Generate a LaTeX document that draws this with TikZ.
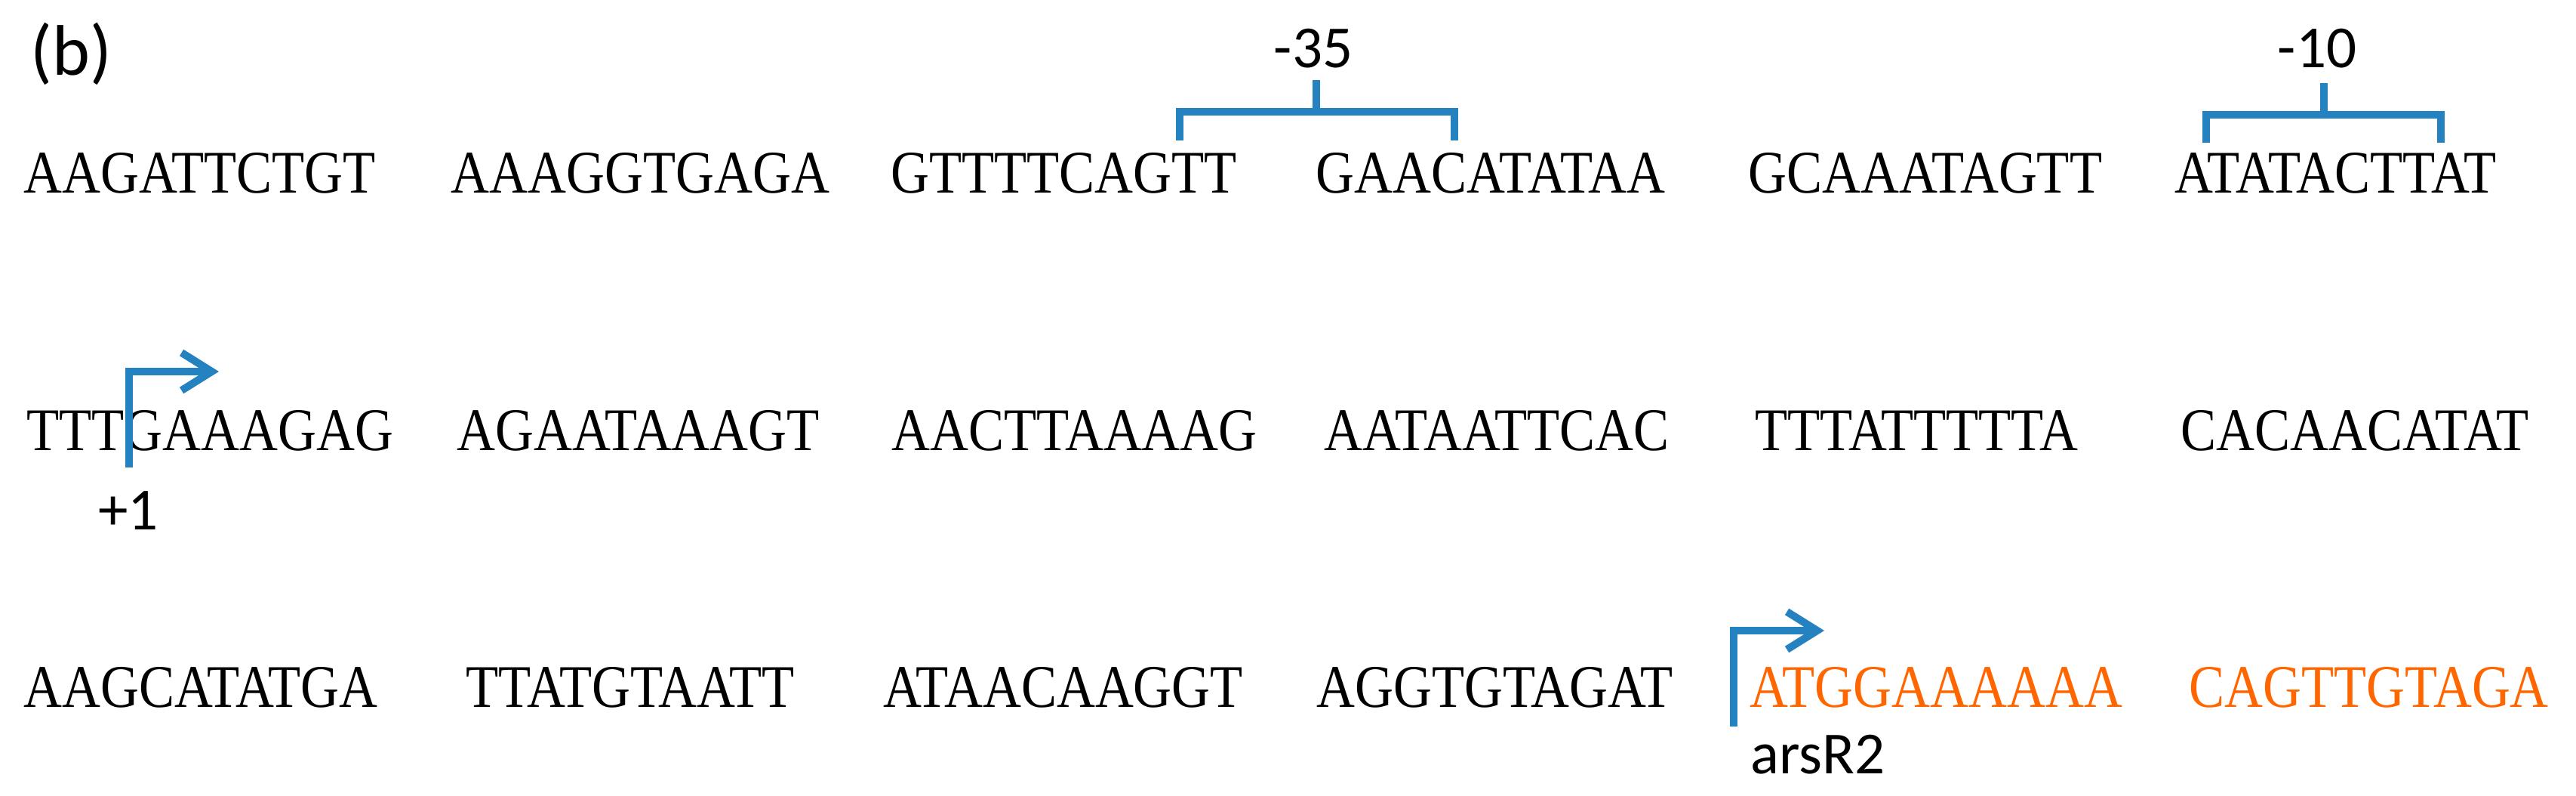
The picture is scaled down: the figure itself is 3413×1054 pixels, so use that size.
\documentclass[tikz,border=0pt]{standalone}
\usepackage{fontspec}
\newfontfamily\seqfont[FakeStretch=0.88]{Liberation Serif}
\newfontfamily\lblfont{Carlito}
\usetikzlibrary{arrows.meta}
\definecolor{promblue}{RGB}{37,130,193}
\definecolor{geneorange}{RGB}{255,102,0}

\begin{document}
\begin{tikzpicture}[x = .1mm, y = -.1mm,
  seq/.style = {anchor = base west, inner sep = 0pt, font = \seqfont\fontsize{22.8}{27}\selectfont},
  gene/.style = {seq, text = geneorange},
  lbl/.style = {inner sep = 0pt, font = \lblfont\fontsize{22.5}{27}\selectfont},
  brack/.style = {draw = promblue, line width = 1mm},
  prom/.style = {draw = promblue, line width = 1mm, -{Straight Barb[length = 4mm, width = 5mm]}}]
\useasboundingbox (0,0) rectangle (3413,1054);
\node[lbl, anchor = base west, font = \lblfont\fontsize{27}{32}\selectfont] (panel) at (40,100) {(b)};
% first line
\node[seq] (s11) at (31,256) {AAGATTCTGT};
\node[seq] (s12) at (597,256) {AAAGGTGAGA};
\node[seq] (s13) at (1180,256) {GTTTTCAGTT};
\node[seq] (s14) at (1743,256) {GAACATATAA};
\node[seq] (s15) at (2316,256) {GCAAATAGTT};
\node[seq] (s16) at (2881,256) {ATATACTTAT};
% second line
\node[seq] (s21) at (35,597) {TTTGAAAGAG};
\node[seq] (s22) at (605,597) {AGAATAAAGT};
\node[seq] (s23) at (1181,597) {AACTTAAAAG};
\node[seq] (s24) at (1754,597) {AATAATTCAC};
\node[seq] (s25) at (2325,597) {TTTATTTTTA};
\node[seq] (s26) at (2889,597) {CACAACATAT};
% third line
\node[seq] (s31) at (31,937) {AAGCATATGA};
\node[seq] (s32) at (617,937) {TTATGTAATT};
\node[seq] (s33) at (1170,937) {ATAACAAGGT};
\node[seq] (s34) at (1744,937) {AGGTGTAGAT};
\node[gene] (s35) at (2318,937) {ATGGAAAAAA};
\node[gene] (s36) at (2900,937) {CAGTTGTAGA};
% boxes
\node[lbl, anchor = base] (m35) at (1740,90) {-35};
\draw[brack] (1563,186) -- (1563,148) -- (1927,148) -- (1927,186);
\draw[brack] (1744,148) -- (1744,106);
\node[lbl, anchor = base] (m10) at (3070,90) {-10};
\draw[brack] (2923,189) -- (2923,152) -- (3234,152) -- (3234,189);
\draw[brack] (3079,152) -- (3079,110);
% start sites
\coordinate (tss) at (171,619);
\coordinate (tsstip) at (290,492);
\draw[prom] (tss) |- (tsstip);
\node[lbl, anchor = base] (plus1) at (170,702) {+1};
\coordinate (atg) at (2297,962);
\coordinate (atgtip) at (2417,835);
\draw[prom] (atg) |- (atgtip);
\node[lbl, anchor = base west] (gene) at (2319,1025) {arsR2};
\end{tikzpicture}
\end{document}
